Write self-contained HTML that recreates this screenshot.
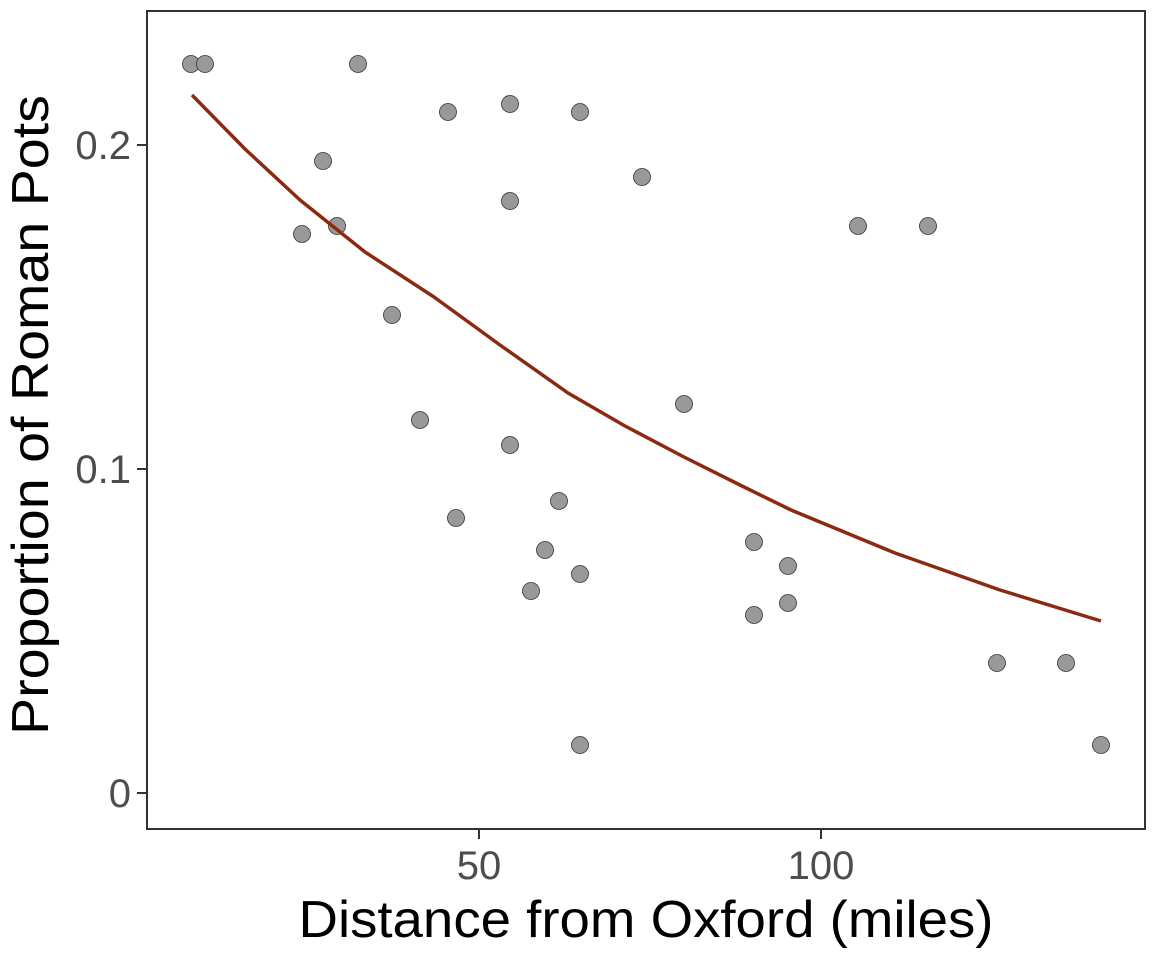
<!DOCTYPE html>
<html><head><style>body{margin:0;background:#fff}</style></head><body>
<svg width="1152" height="960" xmlns="http://www.w3.org/2000/svg" font-family="Liberation Sans, sans-serif">
<rect width="1152" height="960" fill="#fff"/>
<g fill="#999" stroke="#333" stroke-width="0.8">
<circle cx="191" cy="64" r="8.5"/><circle cx="205" cy="64" r="8.5"/><circle cx="358" cy="64" r="8.5"/>
<circle cx="448" cy="112" r="8.5"/><circle cx="510" cy="104" r="8.5"/><circle cx="580" cy="112" r="8.5"/>
<circle cx="323" cy="161" r="8.5"/><circle cx="642" cy="177" r="8.5"/><circle cx="510" cy="201" r="8.5"/>
<circle cx="302" cy="234" r="8.5"/><circle cx="337" cy="226" r="8.5"/><circle cx="858" cy="226" r="8.5"/>
<circle cx="928" cy="226" r="8.5"/><circle cx="392" cy="315" r="8.5"/><circle cx="684" cy="404" r="8.5"/>
<circle cx="420" cy="420" r="8.5"/><circle cx="510" cy="445" r="8.5"/><circle cx="559" cy="501" r="8.5"/>
<circle cx="456" cy="518" r="8.5"/><circle cx="545" cy="550" r="8.5"/><circle cx="754" cy="542" r="8.5"/>
<circle cx="788" cy="566" r="8.5"/><circle cx="580" cy="574" r="8.5"/><circle cx="531" cy="591" r="8.5"/>
<circle cx="754" cy="615" r="8.5"/><circle cx="788" cy="603" r="8.5"/><circle cx="997" cy="663" r="8.5"/>
<circle cx="1066" cy="663" r="8.5"/><circle cx="580" cy="745" r="8.5"/><circle cx="1101" cy="745" r="8.5"/>
</g>
<polyline fill="none" stroke="#8b2a10" stroke-width="3.5" stroke-linejoin="round" points="192,95 245,149 300,200 365,252 434,297 500,345 568,393 625,426 684,457 740,485 791,510 895,553 1000,590 1101,621"/>
<rect x="147" y="11" width="998" height="818" fill="none" stroke="#333" stroke-width="2"/>
<g stroke="#333" stroke-width="2">
<line x1="137" y1="145" x2="147" y2="145"/><line x1="137" y1="469" x2="147" y2="469"/><line x1="137" y1="793" x2="147" y2="793"/>
<line x1="479" y1="829" x2="479" y2="839"/><line x1="821" y1="829" x2="821" y2="839"/>
</g>
<g fill="#4d4d4d" font-size="40" text-anchor="end">
<text x="131" y="159">0.2</text><text x="131" y="483">0.1</text><text x="131" y="807">0</text>
</g>
<g fill="#4d4d4d" font-size="40" text-anchor="middle">
<text x="479" y="879">50</text><text x="821" y="879">100</text>
</g>
<text x="646" y="937" font-size="52" text-anchor="middle" fill="#000" textLength="695" lengthAdjust="spacingAndGlyphs">Distance from Oxford (miles)</text>
<text transform="translate(48,415) rotate(-90)" font-size="52" text-anchor="middle" fill="#000" textLength="640" lengthAdjust="spacingAndGlyphs">Proportion of Roman Pots</text>
</svg>
</body></html>
